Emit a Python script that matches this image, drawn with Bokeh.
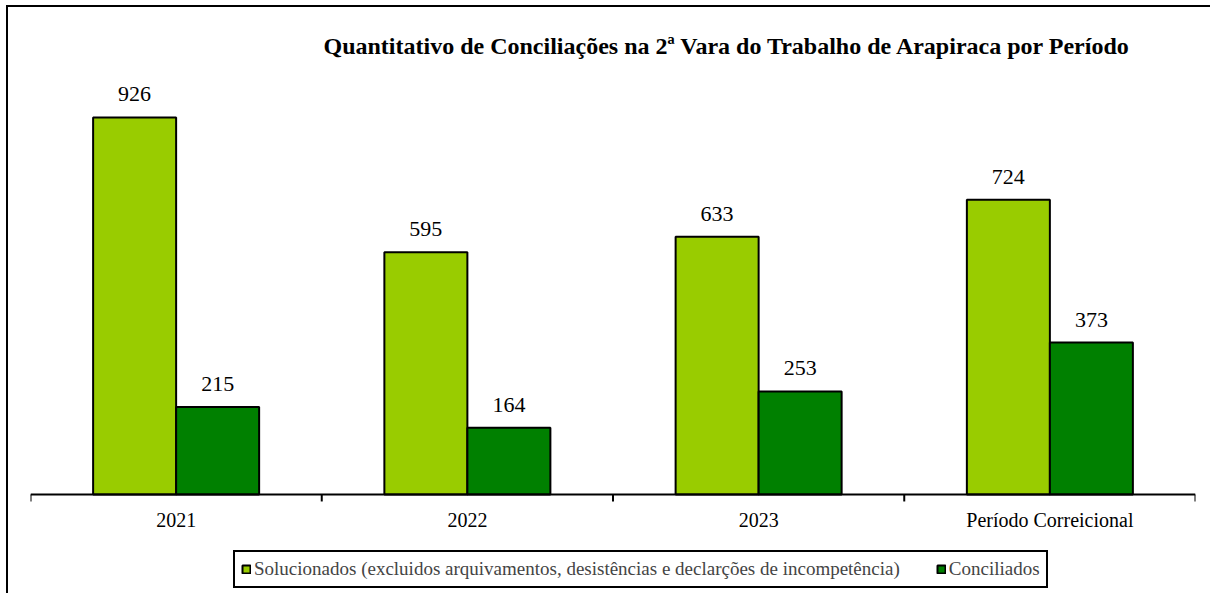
import math
from bokeh.plotting import figure
from bokeh.models import (ColumnDataSource, Range1d, Legend, LegendItem, LabelSet)
from bokeh.core.properties import value
from bokeh.embed import file_html
from bokeh.resources import INLINE

categories = ["2021", "2022", "2023", "Período Correicional"]
solucionados = [926, 595, 633, 724]
conciliados = [215, 164, 253, 373]
series_names = ["Solucionados (excluidos arquivamentos, desistências e declarções de incompetência)",
                "Conciliados"]
colors = ["#99CC00", "#008000"]

FONT = "Liberation Serif"
bar_w = 0.285
n = len(categories)
idx = [i + 0.5 for i in range(n)]
bounds = list(range(n + 1))

p = figure(width=1210, height=593, output_backend="svg", toolbar_location=None,
           x_range=Range1d(0, n), y_range=Range1d(-243.2, 1051),
           x_axis_location=None, y_axis_location=None,
           min_border_left=30, min_border_right=15, min_border_top=66, min_border_bottom=0)
p.styles = {"box-shadow": "inset 6px 5px 0 0 white, inset 8px 7px 0 0 black",
            "background-color": "white"}
p.border_fill_alpha = 0
p.background_fill_alpha = 0
p.outline_line_color = None
p.xgrid.visible = False
p.ygrid.visible = False

src1 = ColumnDataSource(dict(x=[i - bar_w / 2 for i in idx], top=solucionados,
                             lbl=[str(v) for v in solucionados]))
src2 = ColumnDataSource(dict(x=[i + bar_w / 2 for i in idx], top=conciliados,
                             lbl=[str(v) for v in conciliados]))
r1 = p.vbar(x="x", top="top", width=bar_w, source=src1, fill_color=colors[0],
            line_color="black", line_width=2)
r2 = p.vbar(x="x", top="top", width=bar_w, source=src2, fill_color=colors[1],
            line_color="black", line_width=2)

for s in (src1, src2):
    p.add_layout(LabelSet(x="x", y="top", text="lbl", source=s, text_align="center",
                          text_baseline="bottom", y_offset=16, text_font=FONT,
                          text_font_size="22px", text_color="black"))

# category axis drawn at y = 0
p.segment(x0=[bounds[0]], y0=[0], x1=[bounds[-1]], y1=[0], line_color="black", line_width=2)
p.ray(x=bounds, y=[0] * len(bounds), length=7, length_units="screen",
      angle=-math.pi / 2, line_color="black", line_width=2)
p.text(x=idx, y=[0] * n, text=categories, text_align="center", text_baseline="middle",
       y_offset=26, text_font=value(FONT), text_font_size="20px", text_color="black")

p.title.text = "Quantitativo de Conciliações na 2ª Vara do Trabalho de Arapiraca por Período"
p.title.text_font = FONT
p.title.text_font_style = "bold"
p.title.text_font_size = "24px"
p.title.text_color = "black"
p.title.align = "left"
p.title.offset = 293
p.title.standoff = 15

legend = Legend(items=[LegendItem(label=series_names[0], renderers=[r1]),
                       LegendItem(label=series_names[1], renderers=[r2])],
                orientation="horizontal", location=(203, 5),
                label_text_font=FONT, label_text_font_size="19px",
                glyph_width=10, glyph_height=10, label_standoff=3, spacing=36,
                label_height=19, padding=6, margin=0,
                border_line_color="black", border_line_width=2, border_line_alpha=1,
                background_fill_color="white", background_fill_alpha=1)
p.add_layout(legend, "center")

open("out.html", "w").write(file_html(p, INLINE))
